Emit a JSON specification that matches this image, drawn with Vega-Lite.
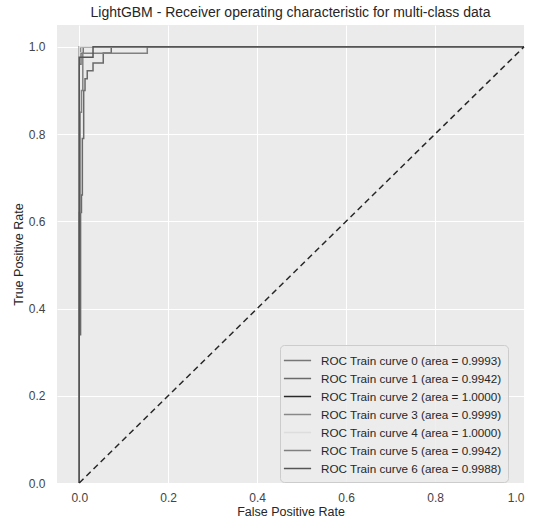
{
  "$schema": "https://vega.github.io/schema/vega-lite/v6.json",
  "width": 467,
  "height": 458,
  "autosize": {"type": "none"},
  "padding": {"left": 57, "top": 25, "right": 9, "bottom": 36},
  "background": "white",
  "title": {
    "text": "LightGBM - Receiver operating characteristic for multi-class data",
    "fontSize": 14,
    "font": "Liberation Sans",
    "fontWeight": "normal",
    "color": "#262626",
    "anchor": "middle",
    "offset": 5
  },
  "config": {
    "view": {"fill": "#EBEBEB", "stroke": null},
    "axis": {
      "domain": false,
      "ticks": false,
      "gridColor": "white",
      "gridWidth": 1,
      "labelFont": "Liberation Sans",
      "labelFontSize": 12,
      "labelColor": "#444444",
      "titleFont": "Liberation Sans",
      "titleFontSize": 12.5,
      "titleFontWeight": "normal",
      "titleColor": "#262626"
    }
  },
  "datasets": {
    "roc": [
      {"curve": "ROC Train curve 0 (area = 0.9993)", "i": 0, "fpr": 0, "tpr": 0},
      {"curve": "ROC Train curve 0 (area = 0.9993)", "i": 1, "fpr": 0, "tpr": 0.96},
      {"curve": "ROC Train curve 0 (area = 0.9993)", "i": 2, "fpr": 0.004, "tpr": 0.96},
      {"curve": "ROC Train curve 0 (area = 0.9993)", "i": 3, "fpr": 0.004, "tpr": 0.985},
      {"curve": "ROC Train curve 0 (area = 0.9993)", "i": 4, "fpr": 0.009, "tpr": 0.985},
      {"curve": "ROC Train curve 0 (area = 0.9993)", "i": 5, "fpr": 0.009, "tpr": 1},
      {"curve": "ROC Train curve 0 (area = 0.9993)", "i": 6, "fpr": 1, "tpr": 1},

      {"curve": "ROC Train curve 1 (area = 0.9942)", "i": 0, "fpr": 0, "tpr": 0},
      {"curve": "ROC Train curve 1 (area = 0.9942)", "i": 1, "fpr": 0, "tpr": 0.34},
      {"curve": "ROC Train curve 1 (area = 0.9942)", "i": 2, "fpr": 0.003, "tpr": 0.34},
      {"curve": "ROC Train curve 1 (area = 0.9942)", "i": 3, "fpr": 0.003, "tpr": 0.62},
      {"curve": "ROC Train curve 1 (area = 0.9942)", "i": 4, "fpr": 0.005, "tpr": 0.62},
      {"curve": "ROC Train curve 1 (area = 0.9942)", "i": 5, "fpr": 0.005, "tpr": 0.66},
      {"curve": "ROC Train curve 1 (area = 0.9942)", "i": 6, "fpr": 0.007, "tpr": 0.66},
      {"curve": "ROC Train curve 1 (area = 0.9942)", "i": 7, "fpr": 0.007, "tpr": 0.79},
      {"curve": "ROC Train curve 1 (area = 0.9942)", "i": 8, "fpr": 0.01, "tpr": 0.79},
      {"curve": "ROC Train curve 1 (area = 0.9942)", "i": 9, "fpr": 0.01, "tpr": 0.9},
      {"curve": "ROC Train curve 1 (area = 0.9942)", "i": 10, "fpr": 0.013, "tpr": 0.9},
      {"curve": "ROC Train curve 1 (area = 0.9942)", "i": 11, "fpr": 0.013, "tpr": 0.927},
      {"curve": "ROC Train curve 1 (area = 0.9942)", "i": 12, "fpr": 0.018, "tpr": 0.927},
      {"curve": "ROC Train curve 1 (area = 0.9942)", "i": 13, "fpr": 0.018, "tpr": 0.945},
      {"curve": "ROC Train curve 1 (area = 0.9942)", "i": 14, "fpr": 0.031, "tpr": 0.945},
      {"curve": "ROC Train curve 1 (area = 0.9942)", "i": 15, "fpr": 0.031, "tpr": 0.963},
      {"curve": "ROC Train curve 1 (area = 0.9942)", "i": 16, "fpr": 0.054, "tpr": 0.963},
      {"curve": "ROC Train curve 1 (area = 0.9942)", "i": 17, "fpr": 0.054, "tpr": 0.986},
      {"curve": "ROC Train curve 1 (area = 0.9942)", "i": 18, "fpr": 0.072, "tpr": 0.986},
      {"curve": "ROC Train curve 1 (area = 0.9942)", "i": 19, "fpr": 0.072, "tpr": 1},
      {"curve": "ROC Train curve 1 (area = 0.9942)", "i": 20, "fpr": 1, "tpr": 1},

      {"curve": "ROC Train curve 2 (area = 1.0000)", "i": 0, "fpr": 0, "tpr": 0},
      {"curve": "ROC Train curve 2 (area = 1.0000)", "i": 1, "fpr": 0, "tpr": 1},
      {"curve": "ROC Train curve 2 (area = 1.0000)", "i": 2, "fpr": 1, "tpr": 1},

      {"curve": "ROC Train curve 3 (area = 0.9999)", "i": 0, "fpr": 0, "tpr": 0},
      {"curve": "ROC Train curve 3 (area = 0.9999)", "i": 1, "fpr": 0, "tpr": 0.99},
      {"curve": "ROC Train curve 3 (area = 0.9999)", "i": 2, "fpr": 0.003, "tpr": 0.99},
      {"curve": "ROC Train curve 3 (area = 0.9999)", "i": 3, "fpr": 0.003, "tpr": 1},
      {"curve": "ROC Train curve 3 (area = 0.9999)", "i": 4, "fpr": 1, "tpr": 1},

      {"curve": "ROC Train curve 4 (area = 1.0000)", "i": 0, "fpr": 0, "tpr": 0},
      {"curve": "ROC Train curve 4 (area = 1.0000)", "i": 1, "fpr": 0, "tpr": 1},
      {"curve": "ROC Train curve 4 (area = 1.0000)", "i": 2, "fpr": 1, "tpr": 1},

      {"curve": "ROC Train curve 5 (area = 0.9942)", "i": 0, "fpr": 0, "tpr": 0},
      {"curve": "ROC Train curve 5 (area = 0.9942)", "i": 1, "fpr": 0, "tpr": 0.62},
      {"curve": "ROC Train curve 5 (area = 0.9942)", "i": 2, "fpr": 0.002, "tpr": 0.62},
      {"curve": "ROC Train curve 5 (area = 0.9942)", "i": 3, "fpr": 0.002, "tpr": 0.85},
      {"curve": "ROC Train curve 5 (area = 0.9942)", "i": 4, "fpr": 0.005, "tpr": 0.85},
      {"curve": "ROC Train curve 5 (area = 0.9942)", "i": 5, "fpr": 0.005, "tpr": 0.9},
      {"curve": "ROC Train curve 5 (area = 0.9942)", "i": 6, "fpr": 0.008, "tpr": 0.9},
      {"curve": "ROC Train curve 5 (area = 0.9942)", "i": 7, "fpr": 0.008, "tpr": 0.985},
      {"curve": "ROC Train curve 5 (area = 0.9942)", "i": 8, "fpr": 0.153, "tpr": 0.985},
      {"curve": "ROC Train curve 5 (area = 0.9942)", "i": 9, "fpr": 0.153, "tpr": 1},
      {"curve": "ROC Train curve 5 (area = 0.9942)", "i": 10, "fpr": 1, "tpr": 1},

      {"curve": "ROC Train curve 6 (area = 0.9988)", "i": 0, "fpr": 0, "tpr": 0},
      {"curve": "ROC Train curve 6 (area = 0.9988)", "i": 1, "fpr": 0, "tpr": 0.976},
      {"curve": "ROC Train curve 6 (area = 0.9988)", "i": 2, "fpr": 0.031, "tpr": 0.976},
      {"curve": "ROC Train curve 6 (area = 0.9988)", "i": 3, "fpr": 0.031, "tpr": 1},
      {"curve": "ROC Train curve 6 (area = 0.9988)", "i": 4, "fpr": 1, "tpr": 1}
    ],
    "diag": [
      {"fpr": 0, "tpr": 0},
      {"fpr": 1, "tpr": 1}
    ]
  },
  "layer": [
    {
      "data": {"name": "roc"},
      "mark": {"type": "line", "strokeWidth": 1.5, "interpolate": "linear"},
      "encoding": {
        "x": {
          "field": "fpr",
          "type": "quantitative",
          "scale": {"domain": [-0.05, 1.0], "nice": false, "zero": false},
          "axis": {"values": [0, 0.2, 0.4, 0.6, 0.8, 1.0], "format": ".1f", "labelPadding": 9, "title": "False Positive Rate", "titlePadding": 2}
        },
        "y": {
          "field": "tpr",
          "type": "quantitative",
          "scale": {"domain": [0, 1.05], "nice": false, "zero": false},
          "axis": {"values": [0, 0.2, 0.4, 0.6, 0.8, 1.0], "format": ".1f", "labelPadding": 12, "title": "True Positive Rate", "titlePadding": 3}
        },
        "color": {
          "field": "curve",
          "type": "nominal",
          "scale": {
            "domain": [
              "ROC Train curve 0 (area = 0.9993)",
              "ROC Train curve 1 (area = 0.9942)",
              "ROC Train curve 2 (area = 1.0000)",
              "ROC Train curve 3 (area = 0.9999)",
              "ROC Train curve 4 (area = 1.0000)",
              "ROC Train curve 5 (area = 0.9942)",
              "ROC Train curve 6 (area = 0.9988)"
            ],
            "range": ["#777777", "#6a6a6a", "#2a2a2a", "#888888", "#dddddd", "#808080", "#555555"]
          },
          "legend": {
            "title": null,
            "orient": "none",
            "legendX": 223,
            "legendY": 320,
            "symbolType": "M-1.6,0H1.6",
            "symbolStrokeWidth": 1.5,
            "symbolSize": 289,
            "symbolOffset": 2,
            "labelOffset": 14,
            "labelFont": "Liberation Sans",
            "labelFontSize": 11.7,
            "labelColor": "#262626",
            "labelLimit": 300,
            "padding": 6,
            "rowPadding": 1,
            "fillColor": "rgba(236,236,236,0.85)",
            "strokeColor": "#cccccc",
            "cornerRadius": 4
          }
        },
        "order": {"field": "i", "type": "quantitative"}
      }
    },
    {
      "data": {"name": "diag"},
      "mark": {"type": "line", "color": "#262626", "strokeWidth": 1.5, "strokeDash": [6, 4]},
      "encoding": {
        "x": {"field": "fpr", "type": "quantitative"},
        "y": {"field": "tpr", "type": "quantitative"}
      }
    }
  ]
}
